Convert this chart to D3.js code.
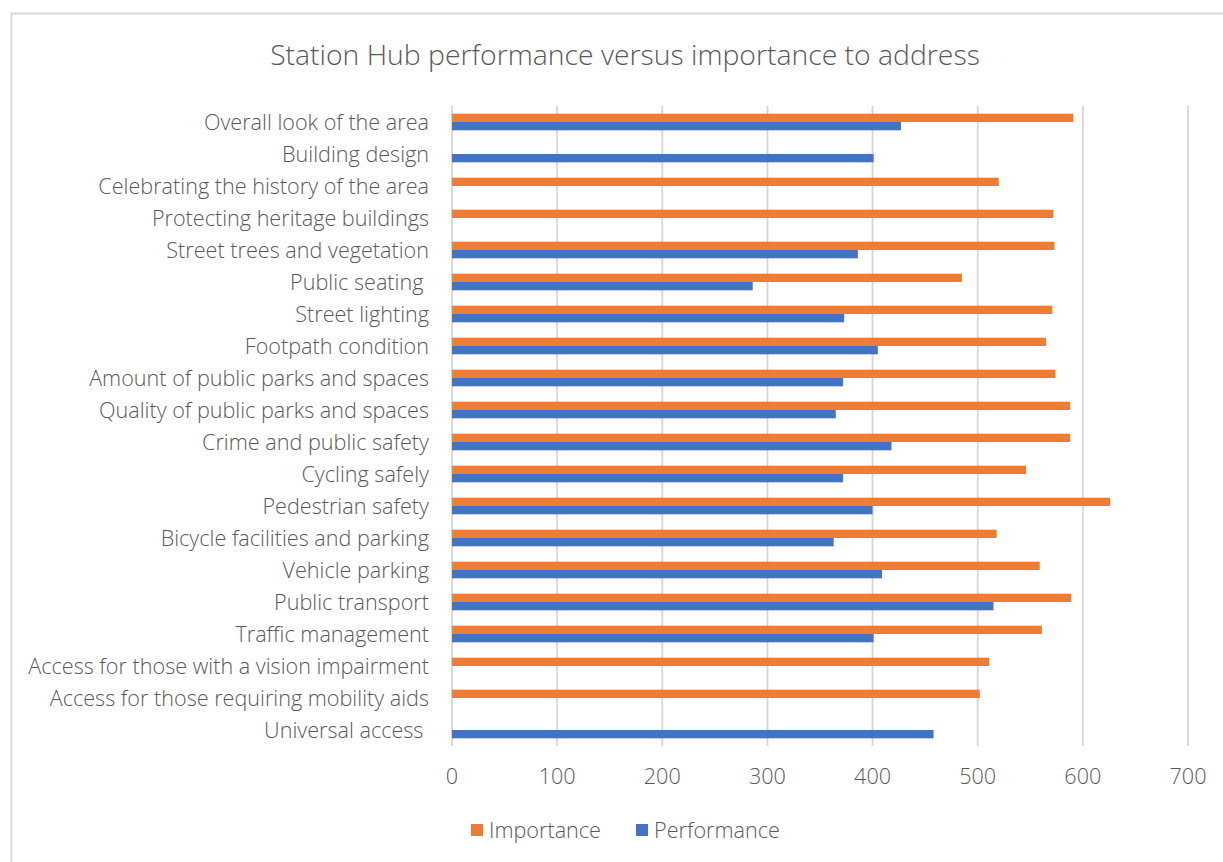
<!DOCTYPE html>
<html>
<head>
<meta charset="utf-8">
<script src="https://cdn.jsdelivr.net/npm/d3@7"></script>
<style>
  body { margin: 0; background: #fff; }
  text { font-family: "Open Sans", Lato, sans-serif; font-weight: 300; fill: #595959; }
</style>
</head>
<body>
<div id="chart"></div>
<script>
var categories = [
    "Overall look of the area",
    "Building design",
    "Celebrating the history of the area",
    "Protecting heritage buildings",
    "Street trees and vegetation",
    "Public seating ",
    "Street lighting",
    "Footpath condition",
    "Amount of public parks and spaces",
    "Quality of public parks and spaces",
    "Crime and public safety",
    "Cycling safely",
    "Pedestrian safety",
    "Bicycle facilities and parking",
    "Vehicle parking",
    "Public transport",
    "Traffic management",
    "Access for those with a vision impairment",
    "Access for those requiring mobility aids",
    "Universal access "
];
var importance = [591, null, 520, 572, 573, 485, 571, 565, 574, 588, 588, 546, 626, 518, 559, 589, 561, 511, 502, null];
var performance = [427, 401, null, null, 386, 286, 373, 405, 372, 365, 418, 372, 400, 363, 409, 515, 401, null, null, 458];
var seriesNames = ["Importance", "Performance"];
var xTicks = [0, 100, 200, 300, 400, 500, 600, 700];

var colors = {Importance: "#ED7D31", Performance: "#4472C4"};
var width = 1223, height = 862;
var plotLeft = 452, plotRight = 1188, plotTop = 106, plotBottom = 746;

var svg = d3.select("#chart").append("svg")
    .attr("width", width)
    .attr("height", height)

// chart frame
svg.append("rect")
    .attr("x", 11.5).attr("y", 13.5)
    .attr("width", 1240).attr("height", 880)
    .attr("fill", "#fff")
    .attr("stroke", "#D9D9D9")
    .attr("stroke-width", 2)

// pick a font size so text hits a target width (font is a stand-in for Calibri Light)
function fitSize(str, target) {
    var t = svg.append("text").style("font-size", "100px").text(str);
    var w = t.node().getComputedTextLength();
    t.remove();
    return 100 * target / w;
}
var labelSize = fitSize("Access for those with a vision impairment", 401);
var titleSize = fitSize("Station Hub performance versus importance to address", 710);

var x = d3.scaleLinear().domain([0, 700]).range([plotLeft, plotRight]);
var y = d3.scaleBand().domain(categories).range([plotTop, plotBottom]).paddingInner(0.48).paddingOuter(0.24);
var ySub = d3.scaleBand().domain(seriesNames).range([0, y.bandwidth()]);

// gridlines
svg.append("g")
    .selectAll("line")
    .data(xTicks)
    .enter()
    .append("line")
    .attr("x1", d => x(d)).attr("x2", d => x(d))
    .attr("y1", plotTop).attr("y2", plotBottom)
    .attr("stroke", "#D9D9D9")
    .attr("stroke-width", 2)

var rows = categories.map((c, i) => ({cat: c, Importance: importance[i], Performance: performance[i]}));

var groups = svg.append("g")
    .selectAll("g")
    .data(rows)
    .enter()
    .append("g")
    .attr("transform", d => "translate(0," + y(d.cat) + ")")

groups.selectAll("rect")
    .data(d => seriesNames.filter(s => d[s] != null).map(s => ({s: s, v: d[s]})))
    .enter()
    .append("rect")
    .attr("x", x(0))
    .attr("y", d => ySub(d.s))
    .attr("width", d => x(d.v) - x(0))
    .attr("height", ySub.bandwidth())
    .attr("fill", d => colors[d.s])

// category labels
svg.append("g")
    .selectAll("text")
    .data(categories)
    .enter()
    .append("text")
    .attr("x", 429)
    .attr("y", d => y(d) + y.bandwidth() / 2)
    .attr("dy", "0.35em")
    .style("text-anchor", "end")
    .style("font-size", labelSize + "px")
    .style("white-space", "pre")
    .text(d => d)

// x tick labels
svg.append("g")
    .selectAll("text")
    .data(xTicks)
    .enter()
    .append("text")
    .attr("x", d => x(d))
    .attr("y", 776)
    .attr("dy", "0.35em")
    .style("text-anchor", "middle")
    .style("font-size", labelSize + "px")
    .text(d => d)

// title
svg.append("text")
    .attr("x", 625)
    .attr("y", 55)
    .attr("dy", "0.35em")
    .style("text-anchor", "middle")
    .style("font-size", titleSize + "px")
    .text("Station Hub performance versus importance to address")

// legend
var legendX = [471, 636];
var legend = svg.append("g")
    .selectAll("g")
    .data(seriesNames)
    .enter()
    .append("g")
    .attr("transform", (d, i) => "translate(" + legendX[i] + ",830)")

legend.append("rect")
    .attr("x", 0).attr("y", -6)
    .attr("width", 12).attr("height", 12)
    .attr("fill", d => colors[d])

legend.append("text")
    .attr("x", 18)
    .attr("dy", "0.35em")
    .style("font-size", labelSize + "px")
    .text(d => d)
</script>
</body>
</html>
